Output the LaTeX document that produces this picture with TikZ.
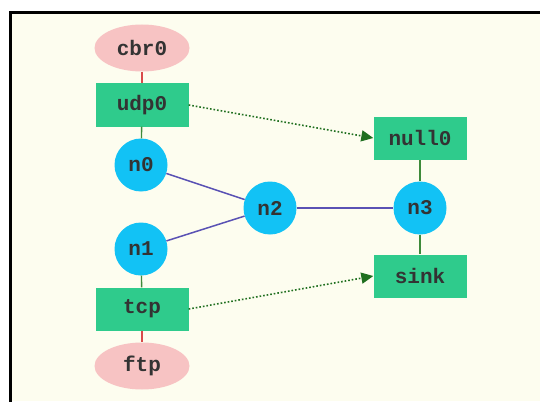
\documentclass[tikz,border=0pt]{standalone}
\usepackage{fontspec}
\setmonofont{Liberation Mono}
\usetikzlibrary{shapes.geometric,arrows.meta}
\definecolor{paper}{HTML}{FDFDEF}
\definecolor{agentpink}{HTML}{F7C3C3}
\definecolor{agentgreen}{HTML}{2FCB8C}
\definecolor{nodeblue}{HTML}{12C2F5}
\definecolor{linkblue}{HTML}{5A52B4}
\definecolor{attachgreen}{HTML}{3E8A3A}
\definecolor{attachred}{HTML}{D94A4A}
\definecolor{flowgreen}{HTML}{1F6F1F}
\tikzset{
  lbl/.style={font=\ttfamily\bfseries\fontsize{21}{24}\selectfont, text=black!80},
  app/.style={lbl, ellipse, fill=agentpink, minimum width=95pt, minimum height=47pt, inner sep=0pt},
  agent/.style={lbl, rectangle, fill=agentgreen, minimum width=93pt, minimum height=43pt, inner sep=0pt},
  host/.style={lbl, circle, fill=nodeblue, minimum size=53pt, inner sep=0pt},
  link/.style={draw=linkblue, line width=1.5pt},
  attach/.style={draw=attachgreen, line width=1.4pt},
  appattach/.style={draw=attachred, line width=1.4pt},
  flow/.style={draw=flowgreen, line width=1.6pt, dotted, -{Triangle[length=12pt,width=11pt]}},
}
\begin{document}
\begin{tikzpicture}[x=1pt,y=-1pt]
\useasboundingbox (0,0) rectangle (540,401);
% page background and frame edges
\fill[white] (0,0) rectangle (540,401);
\fill[paper] (10,13) rectangle (540,401);
\draw[line width=3pt, line cap=rect] (10,401) -- (10,13) -- (540,13);

% nodes
\node[app]   (cbr0) at (142,48)  {cbr0};
\node[agent] (udp0) at (142,105) {udp0};
\node[host]  (n0)   at (141,165) {n0};
\node[host]  (n1)   at (141,249) {n1};
\node[agent] (tcp)  at (142,309) {tcp};
\node[app]   (ftp)  at (142,366) {ftp};
\node[host]  (n2)   at (270,208) {n2};
\node[host]  (n3)   at (420,208) {n3};
\node[agent] (null0) at (420,138) {null0};
\node[agent] (sink)  at (420,276) {sink};

% attachments
\draw[appattach] (cbr0) -- (udp0);
\draw[attach] (udp0) -- (n0);
\draw[attach] (n1) -- (tcp);
\draw[appattach] (tcp) -- (ftp);
\draw[attach] (n3) -- (null0);
\draw[attach] (n3) -- (sink);

% links
\draw[link] (n0) -- (n2);
\draw[link] (n1) -- (n2);
\draw[link] (n2) -- (n3);

% traffic flows
\draw[flow] (udp0.east) -- (null0.west);
\draw[flow] (tcp.east) -- (sink.west);
\end{tikzpicture}
\end{document}
